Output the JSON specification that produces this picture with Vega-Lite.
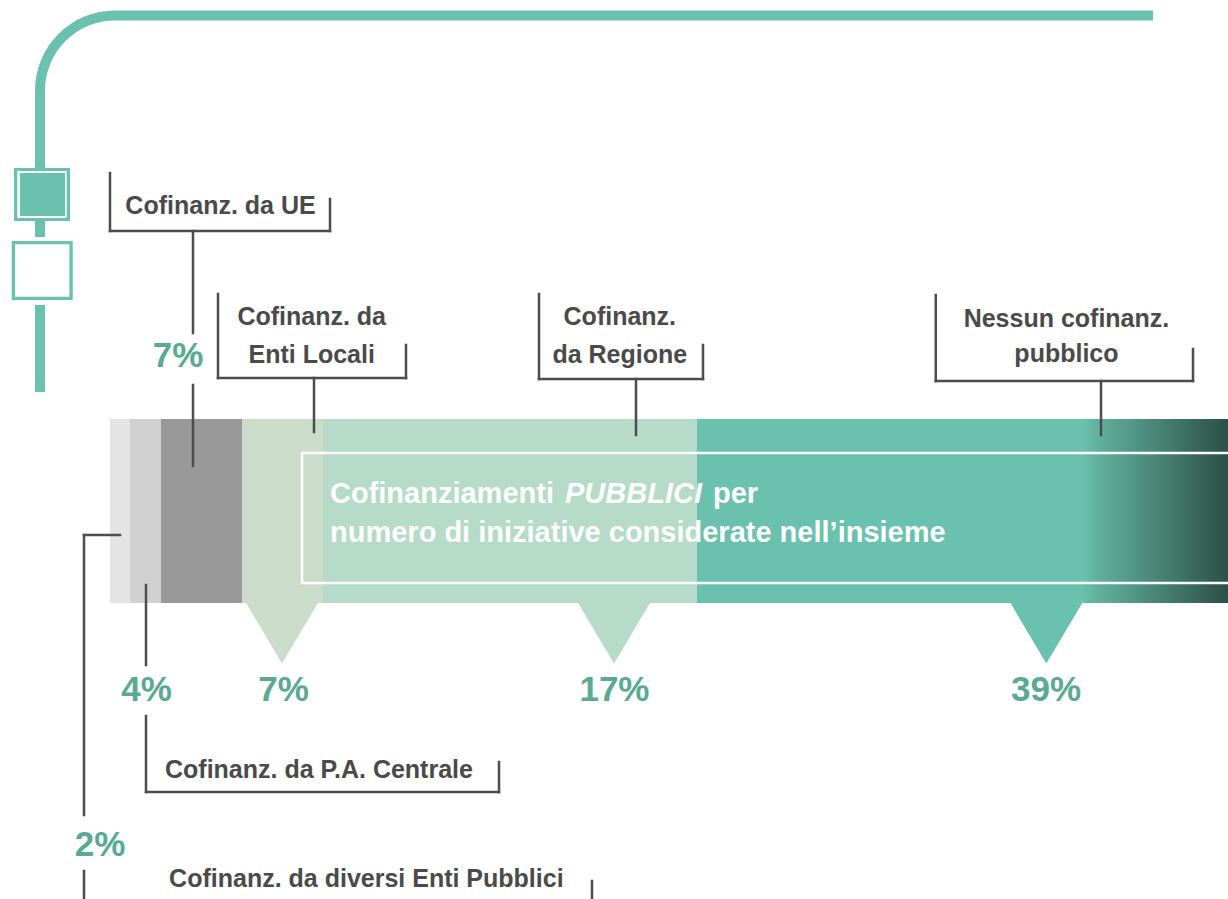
{
  "$schema": "https://vega.github.io/schema/vega-lite/v6.json",
  "width": 1228,
  "height": 899,
  "autosize": {"type": "none"},
  "padding": 0,
  "background": "#ffffff",
  "config": {"view": {"stroke": null}, "font": "Liberation Sans"},
  "datasets": {
    "frame": [
      {"part": "line", "u": 0.447, "u2": 93.292, "v": 1.05, "v2": 2.05},
      {"part": "line", "u": -6.708, "u2": -5.814, "v": 9.0, "v2": 16.9},
      {"part": "line", "u": -8.587, "u2": -3.578, "v": 16.8, "v2": 22.1},
      {"part": "gap", "u": -8.292, "u2": -3.873, "v": 17.1, "v2": 21.8},
      {"part": "line", "u": -8.05, "u2": -4.025, "v": 17.3, "v2": 21.6},
      {"part": "line", "u": -6.708, "u2": -5.814, "v": 22.0, "v2": 23.7},
      {"part": "line", "u": -8.792, "u2": -3.336, "v": 24.1, "v2": 30.0},
      {"part": "gap", "u": -8.497, "u2": -3.631, "v": 24.43, "v2": 29.67},
      {"part": "line", "u": -6.708, "u2": -5.814, "v": 30.5, "v2": 39.2}
    ],
    "corner": [{"u": 0.447, "v": 9.05}],
    "segments": [
      {"name": "Cofinanz. da diversi Enti Pubblici", "pct": 2, "u": 0, "u2": 1.789},
      {"name": "Cofinanz. da P.A. Centrale", "pct": 4, "u": 1.789, "u2": 4.562},
      {"name": "Cofinanz. da UE", "pct": 7, "u": 4.562, "u2": 11.807},
      {"name": "Cofinanz. da Enti Locali", "pct": 7, "u": 11.807, "u2": 19.052},
      {"name": "Cofinanz. da Regione", "pct": 17, "u": 19.052, "u2": 52.504},
      {"name": "Nessun cofinanz. pubblico", "pct": 39, "u": 52.504, "u2": 100}
    ],
    "pointers": [
      {"name": "Cofinanz. da Enti Locali", "pct": 7, "u": 15.385},
      {"name": "Cofinanz. da Regione", "pct": 17, "u": 45.08},
      {"name": "Nessun cofinanz. pubblico", "pct": 39, "u": 83.75}
    ],
    "caption": [
      {"text": "Cofinanziamenti", "u": 19.678, "v": 50.3, "emph": false},
      {"text": "PUBBLICI", "u": 40.698, "v": 50.3, "emph": true},
      {"text": "per", "u": 53.936, "v": 50.3, "emph": false},
      {"text": "numero di iniziative considerate nell’insieme", "u": 19.678, "v": 54.2, "emph": false}
    ],
    "connectors": [
      {"u": 0, "u2": 0, "v": 17.3, "v2": 23.1},
      {"u": 0, "u2": 19.678, "v": 23.1, "v2": 23.1},
      {"u": 19.678, "u2": 19.678, "v": 19.9, "v2": 23.1},
      {"u": 7.424, "u2": 7.424, "v": 23.1, "v2": 33.3},
      {"u": 7.424, "u2": 7.424, "v": 38.5, "v2": 46.6},
      {"u": 9.66, "u2": 9.66, "v": 29.4, "v2": 37.8},
      {"u": 9.66, "u2": 26.476, "v": 37.8, "v2": 37.8},
      {"u": 26.476, "u2": 26.476, "v": 34.5, "v2": 37.8},
      {"u": 18.247, "u2": 18.247, "v": 37.8, "v2": 43.2},
      {"u": 38.372, "u2": 38.372, "v": 29.4, "v2": 37.9},
      {"u": 38.372, "u2": 53.041, "v": 37.9, "v2": 37.9},
      {"u": 53.041, "u2": 53.041, "v": 34.5, "v2": 37.9},
      {"u": 47.048, "u2": 47.048, "v": 37.9, "v2": 43.5},
      {"u": 73.86, "u2": 73.86, "v": 29.5, "v2": 38.1},
      {"u": 73.86, "u2": 96.87, "v": 38.1, "v2": 38.1},
      {"u": 96.87, "u2": 96.87, "v": 34.9, "v2": 38.1},
      {"u": 88.64, "u2": 88.64, "v": 38.1, "v2": 43.5},
      {"u": 3.22, "u2": 3.22, "v": 58.5, "v2": 66.5},
      {"u": 3.22, "u2": 3.22, "v": 71.6, "v2": 79.2},
      {"u": 3.22, "u2": 34.794, "v": 79.2, "v2": 79.2},
      {"u": 34.794, "u2": 34.794, "v": 76.2, "v2": 79.2},
      {"u": -2.326, "u2": 0.894, "v": 53.5, "v2": 53.5},
      {"u": -2.326, "u2": -2.326, "v": 53.5, "v2": 81.5},
      {"u": -2.326, "u2": -2.326, "v": 87.1, "v2": 89.9},
      {"u": 43.113, "u2": 43.113, "v": 88.1, "v2": 89.9}
    ],
    "labels": [
      {"text": "Cofinanz. da UE", "u": 9.884, "v": 21.4},
      {"text": "Cofinanz. da", "u": 18.04, "v": 32.5},
      {"text": "Enti Locali", "u": 18.04, "v": 36.3},
      {"text": "Cofinanz.", "u": 45.6, "v": 32.5},
      {"text": "da Regione", "u": 45.6, "v": 36.3},
      {"text": "Nessun cofinanz.", "u": 85.55, "v": 32.7},
      {"text": "pubblico", "u": 85.55, "v": 36.2},
      {"text": "Cofinanz. da P.A. Centrale", "u": 18.69, "v": 77.8},
      {"text": "Cofinanz. da diversi Enti Pubblici", "u": 22.93, "v": 88.7}
    ],
    "pcts": [
      {"text": "7%", "u": 6.082, "v": 36.7},
      {"text": "4%", "u": 3.265, "v": 70.1},
      {"text": "7%", "u": 15.52, "v": 70.1},
      {"text": "17%", "u": 45.12, "v": 70.1},
      {"text": "39%", "u": 83.72, "v": 70.1},
      {"text": "2%", "u": -0.894, "v": 85.6}
    ]
  },
  "layer": [
    {
      "data": {"name": "frame"},
      "mark": {"type": "rect"},
      "encoding": {
        "x": {"field": "u", "type": "quantitative", "scale": {"domain": [-9.839, 100], "nice": false, "zero": false}, "axis": null},
        "x2": {"field": "u2"},
        "y": {"field": "v", "type": "quantitative", "scale": {"domain": [0, 89.9], "nice": false, "zero": false, "reverse": true}, "axis": null},
        "y2": {"field": "v2"},
        "color": {"field": "part", "type": "nominal", "scale": {"domain": ["line", "gap"], "range": ["#6ac1ad", "#ffffff"]}, "legend": null}
      }
    },
    {
      "data": {"name": "corner"},
      "mark": {"type": "arc", "theta": 4.712389, "theta2": 6.283185, "radius": 80, "radius2": 70, "color": "#6ac1ad"},
      "encoding": {
        "x": {"field": "u", "type": "quantitative", "scale": {"domain": [-9.839, 100], "nice": false, "zero": false}, "axis": null},
        "y": {"field": "v", "type": "quantitative", "scale": {"domain": [0, 89.9], "nice": false, "zero": false, "reverse": true}, "axis": null}
      }
    },
    {
      "data": {"name": "segments"},
      "mark": {"type": "rect"},
      "encoding": {
        "x": {"field": "u", "type": "quantitative", "scale": {"domain": [-9.839, 100], "nice": false, "zero": false}, "axis": null},
        "x2": {"field": "u2"},
        "y": {"datum": 41.9, "type": "quantitative", "scale": {"domain": [0, 89.9], "nice": false, "zero": false, "reverse": true}, "axis": null},
        "y2": {"datum": 60.3, "type": "quantitative"},
        "color": {"field": "name", "type": "nominal", "legend": null,
          "scale": {"domain": ["Cofinanz. da diversi Enti Pubblici", "Cofinanz. da P.A. Centrale", "Cofinanz. da UE", "Cofinanz. da Enti Locali", "Cofinanz. da Regione", "Nessun cofinanz. pubblico"],
                    "range": ["#e4e4e4", "#d0d0d0", "#999999", "#ccdccb", "#b6dbc9", "#6ac1ad"]}}
      }
    },
    {
      "data": {"name": "segments"},
      "transform": [{"filter": "datum.pct == 39"}],
      "mark": {"type": "rect", "color": {"gradient": "linear", "x1": 0, "x2": 1, "y1": 0, "y2": 0,
        "stops": [{"offset": 0, "color": "#6ac1ad"}, {"offset": 0.08, "color": "#62b39f"}, {"offset": 1, "color": "#2c5046"}]}},
      "encoding": {
        "x": {"field": "u2", "type": "quantitative", "scale": {"domain": [-9.839, 100], "nice": false, "zero": false}, "axis": null},
        "x2": {"datum": 87.03, "type": "quantitative"},
        "y": {"datum": 41.9, "type": "quantitative", "scale": {"domain": [0, 89.9], "nice": false, "zero": false, "reverse": true}, "axis": null},
        "y2": {"datum": 60.3, "type": "quantitative"}
      }
    },
    {
      "data": {"name": "pointers"},
      "mark": {"type": "point", "shape": "M-1,-0.86L1,-0.86L0,0.82Z", "filled": true, "opacity": 1, "size": 5329, "strokeWidth": 0},
      "encoding": {
        "x": {"field": "u", "type": "quantitative", "scale": {"domain": [-9.839, 100], "nice": false, "zero": false}, "axis": null},
        "y": {"datum": 63.35, "type": "quantitative", "scale": {"domain": [0, 89.9], "nice": false, "zero": false, "reverse": true}, "axis": null},
        "color": {"field": "name", "type": "nominal", "legend": null,
          "scale": {"domain": ["Cofinanz. da diversi Enti Pubblici", "Cofinanz. da P.A. Centrale", "Cofinanz. da UE", "Cofinanz. da Enti Locali", "Cofinanz. da Regione", "Nessun cofinanz. pubblico"],
                    "range": ["#e4e4e4", "#d0d0d0", "#999999", "#ccdccb", "#b6dbc9", "#6ac1ad"]}}
      }
    },
    {
      "data": {"values": [{"box": "caption frame"}]},
      "mark": {"type": "rect", "fill": null, "fillOpacity": 0, "stroke": "#ffffff", "strokeWidth": 2.5},
      "encoding": {
        "x": {"datum": 17.174, "type": "quantitative", "scale": {"domain": [-9.839, 100], "nice": false, "zero": false}, "axis": null},
        "x2": {"datum": 100.6, "type": "quantitative"},
        "y": {"datum": 45.3, "type": "quantitative", "scale": {"domain": [0, 89.9], "nice": false, "zero": false, "reverse": true}, "axis": null},
        "y2": {"datum": 58.3, "type": "quantitative"}
      }
    },
    {
      "data": {"name": "caption"},
      "transform": [{"filter": "!datum.emph"}],
      "mark": {"type": "text", "align": "left", "baseline": "alphabetic", "fontSize": 29, "fontWeight": "bold", "color": "#ffffff"},
      "encoding": {
        "x": {"field": "u", "type": "quantitative", "scale": {"domain": [-9.839, 100], "nice": false, "zero": false}, "axis": null},
        "y": {"field": "v", "type": "quantitative", "scale": {"domain": [0, 89.9], "nice": false, "zero": false, "reverse": true}, "axis": null},
        "text": {"field": "text"}
      }
    },
    {
      "data": {"name": "caption"},
      "transform": [{"filter": "datum.emph"}],
      "mark": {"type": "text", "align": "left", "baseline": "alphabetic", "fontSize": 29, "fontWeight": "bold", "fontStyle": "italic", "color": "#ffffff"},
      "encoding": {
        "x": {"field": "u", "type": "quantitative", "scale": {"domain": [-9.839, 100], "nice": false, "zero": false}, "axis": null},
        "y": {"field": "v", "type": "quantitative", "scale": {"domain": [0, 89.9], "nice": false, "zero": false, "reverse": true}, "axis": null},
        "text": {"field": "text"}
      }
    },
    {
      "data": {"name": "connectors"},
      "mark": {"type": "rule", "color": "#4d4d4d", "strokeWidth": 2.5, "strokeCap": "square"},
      "encoding": {
        "x": {"field": "u", "type": "quantitative", "scale": {"domain": [-9.839, 100], "nice": false, "zero": false}, "axis": null},
        "x2": {"field": "u2"},
        "y": {"field": "v", "type": "quantitative", "scale": {"domain": [0, 89.9], "nice": false, "zero": false, "reverse": true}, "axis": null},
        "y2": {"field": "v2"}
      }
    },
    {
      "data": {"name": "labels"},
      "mark": {"type": "text", "align": "center", "baseline": "alphabetic", "fontSize": 25, "fontWeight": "bold", "color": "#4a4a4a"},
      "encoding": {
        "x": {"field": "u", "type": "quantitative", "scale": {"domain": [-9.839, 100], "nice": false, "zero": false}, "axis": null},
        "y": {"field": "v", "type": "quantitative", "scale": {"domain": [0, 89.9], "nice": false, "zero": false, "reverse": true}, "axis": null},
        "text": {"field": "text"}
      }
    },
    {
      "data": {"name": "pcts"},
      "mark": {"type": "text", "align": "center", "baseline": "alphabetic", "fontSize": 35, "fontWeight": "bold", "color": "#5aa993"},
      "encoding": {
        "x": {"field": "u", "type": "quantitative", "scale": {"domain": [-9.839, 100], "nice": false, "zero": false}, "axis": null},
        "y": {"field": "v", "type": "quantitative", "scale": {"domain": [0, 89.9], "nice": false, "zero": false, "reverse": true}, "axis": null},
        "text": {"field": "text"}
      }
    }
  ],
  "resolve": {"scale": {"color": "independent"}}
}
